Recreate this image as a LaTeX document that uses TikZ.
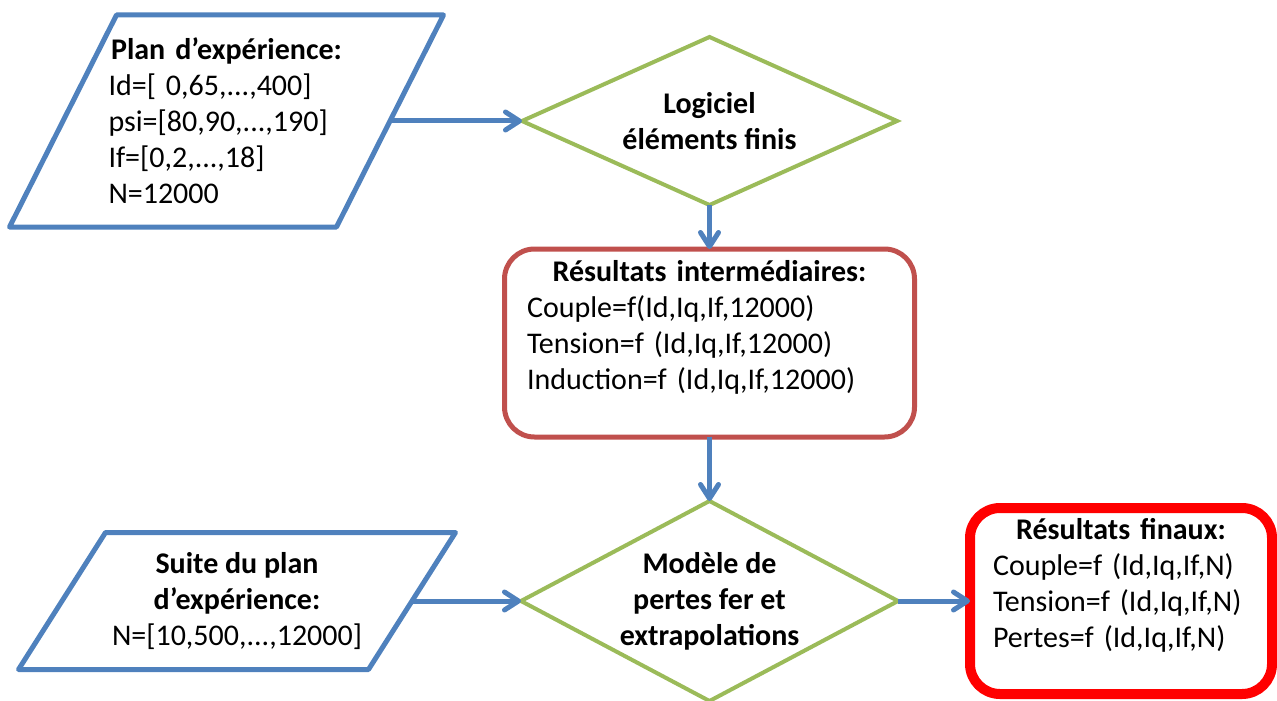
\documentclass[tikz,border=0pt]{standalone}
\usepackage{fontspec}
\setmainfont{Carlito}
\usetikzlibrary{arrows.meta,positioning,shapes.geometric,calc}
\definecolor{bleu}{HTML}{4F81BD}
\definecolor{vert}{HTML}{9BBB59}
\definecolor{brique}{HTML}{C0504D}
\definecolor{rouge}{HTML}{FF0000}
\setlength{\parindent}{0pt}
\tikzset{
  basebox/.style={outer sep=0pt, inner sep=0pt, font=\fontsize{15}{18}\selectfont},
  entree/.style={basebox, rectangle},
  cadre/.style={draw=bleu, line width=2.5pt, line join=round},
  decision/.style={basebox, diamond, draw=vert, line width=2pt, align=center,
                   font=\fontsize{15}{18}\selectfont\bfseries},
  resbox/.style={basebox, rectangle, rounded corners=15pt, draw=brique, line width=2.5pt},
  finbox/.style={resbox, draw=rouge, line width=5pt},
  fleche/.style={-{Straight Barb[length=7pt,width=9pt,round]}, draw=bleu, line width=2.5pt}
}
\begin{document}
\begin{tikzpicture}[x=0.5pt, y=-0.5pt]
  \useasboundingbox (0,0) rectangle (1277,700);
  \node[entree, minimum width=163.5pt, minimum height=106pt, text width=118pt] (plan) at (226.5,121)
    {{\centering\bfseries Plan d’expérience:\par}
     Id=[ 0,65,...,400]\\ psi=[80,90,...,190]\\ If=[0,2,...,18]\\ N=12000};
  \node[decision, aspect=2.232, minimum width=187.5pt, minimum height=84pt, right=66pt of plan] (logiciel)
    {Logiciel\\éléments finis};
  \node[resbox, minimum width=205pt, minimum height=94pt, text width=182.5pt, below=22pt of logiciel] (inter)
    {{\centering\bfseries Résultats intermédiaires:\par}
     Couple=f(Id,Iq,If,12000)\\ Tension=f (Id,Iq,If,12000)\\ Induction=f (Id,Iq,If,12000)\\ \mbox{}};
  \node[decision, aspect=1.885, minimum width=188.5pt, minimum height=100pt, below=32pt of inter] (modele)
    {Modèle de\\pertes fer et\\extrapolations};
  \node[entree, align=center, minimum width=175pt, minimum height=68.5pt, left=54.5pt of modele] (suite)
    {\textbf{Suite du plan}\\\textbf{d’expérience:}\\N=[10,500,...,12000]};
  \node[finbox, minimum width=151pt, minimum height=93pt, text width=128pt, right=36pt of modele] (final)
    {{\centering\bfseries Résultats finaux:\par}
     Couple=f (Id,Iq,If,N)\\ Tension=f (Id,Iq,If,N)\\ Pertes=f (Id,Iq,If,N)\\ \mbox{}};
  % parallelogrammes d'entree
  \foreach \nom/\dec in {plan/53.5, suite/43.5}
    \draw[cadre] ($(\nom.north west)+(\dec,0)$) -- ($(\nom.north east)+(\dec,0)$)
      -- ($(\nom.south east)-(\dec,0)$) -- ($(\nom.south west)-(\dec,0)$) -- cycle;
  \foreach \a/\b in {plan/logiciel, logiciel/inter, inter/modele, suite/modele, modele/final}
    \draw[fleche] (\a) -- (\b);
\end{tikzpicture}
\end{document}
